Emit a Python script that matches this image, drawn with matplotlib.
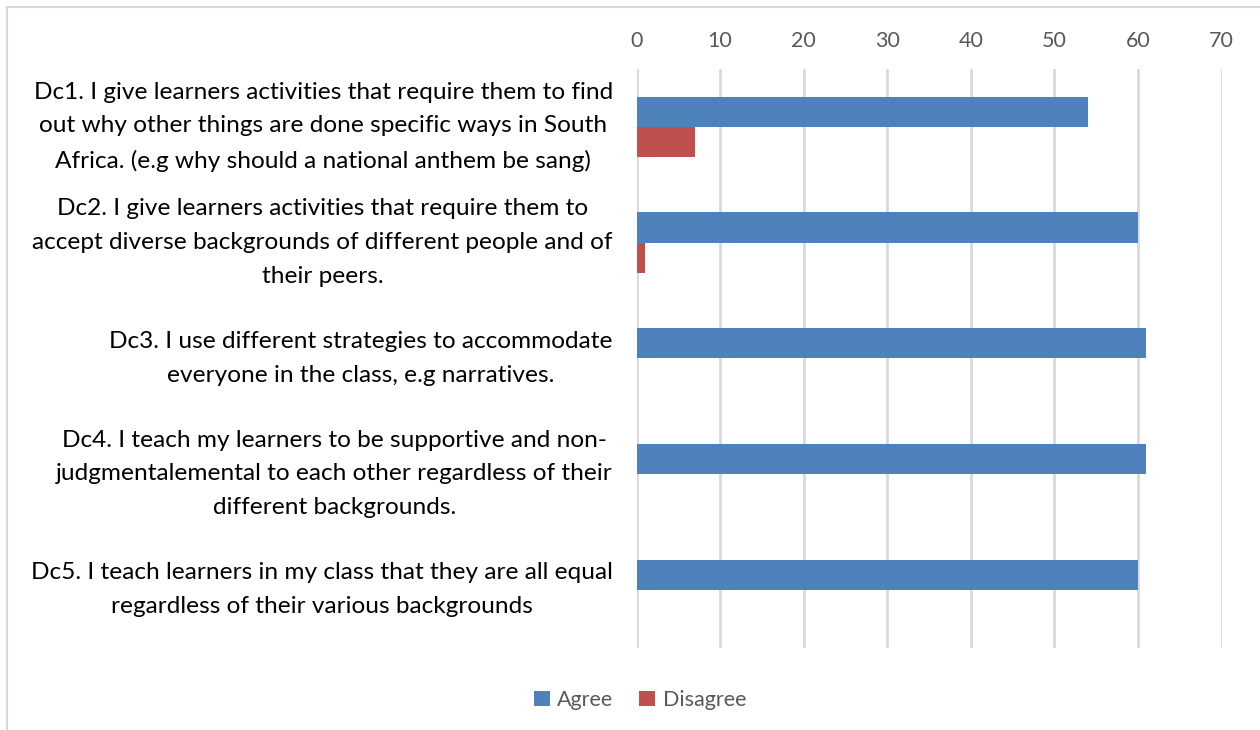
import matplotlib
matplotlib.use("Agg")
import matplotlib.pyplot as plt
from matplotlib.lines import Line2D
from matplotlib.patches import Patch
import numpy as np

categories = [
    "Dc1. I give learners activities that require them to find\n"
    "out why other things are done specific ways in South\n"
    "Africa. (e.g why should a national anthem be sang)",
    "Dc2. I give learners activities that require them to\n"
    "accept diverse backgrounds of different people and of\n"
    "their peers.",
    "Dc3. I use different strategies to accommodate\n"
    "everyone in the class, e.g narratives.",
    "Dc4. I teach my learners to be supportive and non-\n"
    "judgmentalemental to each other regardless of their\n"
    "different backgrounds.",
    "Dc5. I teach learners in my class that they are all equal\n"
    "regardless of their various backgrounds",
]
agree = [54, 60, 61, 61, 60]
disagree = [7, 1, 0, 0, 0]
series_names = ["Agree", "Disagree"]
x_ticks = [0, 10, 20, 30, 40, 50, 60, 70]

BLUE = "#4F81BD"
RED = "#C0504D"
GRID = "#D9D9D9"
TICK_GREY = "#595959"
FONT = ["Lato", "DejaVu Sans"]

plt.rcParams["font.family"] = FONT

fig = plt.figure(figsize=(12.6, 7.3), dpi=100)
ax = fig.add_axes([636.5 / 1260, 1 - 647.5 / 730, 585 / 1260, 578.5 / 730])

y = np.arange(len(categories))
h = 0.26
ax.barh(y - h / 2, agree, height=h, color=BLUE, label=series_names[0], zorder=3)
ax.barh(y + h / 2, disagree, height=h, color=RED, label=series_names[1], zorder=3)

ax.set_ylim(len(categories) - 0.5, -0.5)
ax.set_xlim(0, 70)
ax.set_xticks(x_ticks)
ax.xaxis.tick_top()
ax.tick_params(axis="x", length=0, pad=13, labelsize=15.5, labelcolor=TICK_GREY)
ax.set_yticks(y)
ax.set_yticklabels(categories, ha="right", va="center", multialignment="center",
                   fontsize=17.6, linespacing=1.75, color="black")
ax.tick_params(axis="y", length=0, pad=17)

ax.grid(axis="x", color=GRID, linewidth=2, zorder=0)
for s in ax.spines.values():
    s.set_visible(False)

handles = [Patch(facecolor=BLUE, edgecolor="none"), Patch(facecolor=RED, edgecolor="none")]
fig.legend(handles, series_names, loc="center", bbox_to_anchor=(640 / 1260, 1 - 700 / 730),
           ncol=2, frameon=False, fontsize=15.5, labelcolor=TICK_GREY,
           handlelength=0.75, handleheight=0.75, handletextpad=0.35, columnspacing=1.2)

# outer chart frame
fig.add_artist(Line2D([7 / 1260, 1], [1 - 7 / 730, 1 - 7 / 730], color=GRID, lw=1.5, transform=fig.transFigure))
fig.add_artist(Line2D([7 / 1260, 7 / 1260], [0, 1 - 7 / 730], color=GRID, lw=1.5, transform=fig.transFigure))

fig.savefig("out.png", dpi=100, facecolor="white")
